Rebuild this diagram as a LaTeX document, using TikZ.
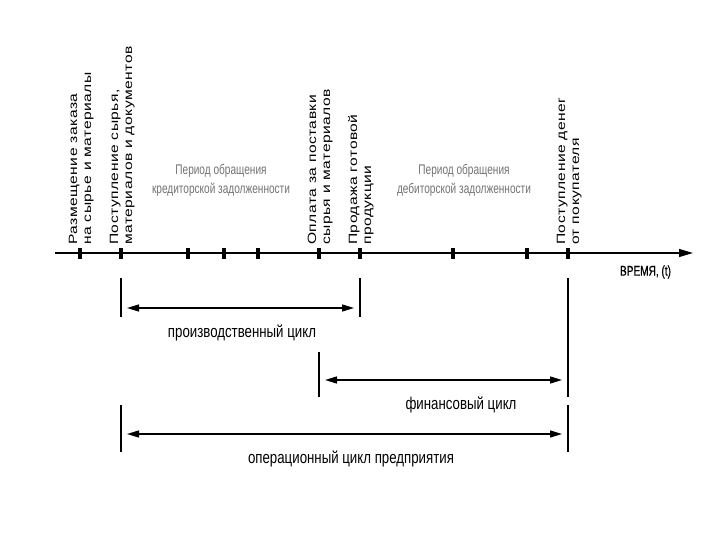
\documentclass[tikz,border=0pt]{standalone}
\usepackage{fontspec}
\setmainfont{Liberation Sans}
\newfontfamily\vfont[FakeStretch=1.3,LetterSpace=4]{Liberation Sans}
\newfontfamily\nfont[FakeStretch=0.78]{Liberation Sans}
\newfontfamily\gfont[FakeStretch=0.72]{Liberation Sans}
\newfontfamily\tfont[FakeStretch=0.72,FakeBold=0.6]{Liberation Sans}
\usetikzlibrary{arrows.meta}
\definecolor{labgray}{rgb}{0.45,0.45,0.45}
\begin{document}
\begin{tikzpicture}[x=1pt,y=-1pt,
  vlab/.style={rotate=90,anchor=base west,inner sep=0pt,font=\vfont\fontsize{12}{14}\selectfont},
  glab/.style={text=labgray,font=\gfont\fontsize{14}{16}\selectfont,inner sep=0pt},
  clab/.style={font=\nfont\fontsize{17}{20}\selectfont,inner sep=0pt},
  tlab/.style={font=\tfont\fontsize{14}{16}\selectfont,inner sep=0pt},
  tickmark/.style={line width=3.5pt},
  bar/.style={line width=1.6pt},
  span/.style={line width=1.4pt,{Triangle[length=12pt,width=7pt]}-{Triangle[length=12pt,width=7pt]},shorten <=6pt,shorten >=6pt},
  axisline/.style={line width=1.2pt,-{Triangle[length=14pt,width=8pt]}}
]
\useasboundingbox (0,0) rectangle (720,540);
\fill[white] (0,0) rectangle (720,540);

% axis
\coordinate (ax0) at (55,253);
\coordinate (ax1) at (693,253);
\draw[axisline] (ax0) -- (ax1);
\node[tlab,anchor=center] (time) at (645.5,272) {ВРЕМЯ, (t)};

% ticks
\foreach \n/\x in {t1/80,t2/121,t3/188,t4/224,t5/258,t6/319,t7/360,t8/453,t9/527,t10/568}{
  \coordinate (\n) at (\x,253);
  \draw[tickmark] ([yshift=-5.5pt]\n) -- ([yshift=5.5pt]\n);
}

% vertical labels
\node[vlab] (l1a) at (77,245) {Размещение заказа};
\node[vlab] (l1b) at (91,245) {на сырье и материалы};
\node[vlab] (l2a) at (118,245) {Поступление сырья,};
\node[vlab] (l2b) at (132,245) {материалов и документов};
\node[vlab] (l3a) at (316,245) {Оплата за поставки};
\node[vlab] (l3b) at (330,245) {сырья и материалов};
\node[vlab] (l4a) at (357,245) {Продажа готовой};
\node[vlab] (l4b) at (371,245) {продукции};
\node[vlab] (l5a) at (565,245) {Поступление денег};
\node[vlab] (l5b) at (579,245) {от покупателя};

% gray period labels
\node[glab] (g1a) at (221,171) {Период обращения};
\node[glab] (g1b) at (221,190) {кредиторской задолженности};
\node[glab] (g2a) at (464,171) {Период обращения};
\node[glab] (g2b) at (464,190) {дебиторской задолженности};

% production cycle
\coordinate (p1t) at (121,278); \coordinate (p1b) at (121,317);
\coordinate (p2t) at (360,278); \coordinate (p2b) at (360,317);
\coordinate (pa) at (121,308); \coordinate (pb) at (360,308);
\draw[bar] (p1t) -- (p1b);
\draw[bar] (p2t) -- (p2b);
\draw[span] (pa) -- (pb);
\node[clab] (plab) at (242,333) {производственный цикл};

% financial cycle
\coordinate (f1t) at (319,352); \coordinate (f1b) at (319,397);
\coordinate (f2t) at (568,278); \coordinate (f2b) at (568,397);
\coordinate (fa) at (319,380); \coordinate (fb) at (568,380);
\draw[bar] (f1t) -- (f1b);
\draw[bar] (f2t) -- (f2b);
\draw[span] (fa) -- (fb);
\node[clab] (flab) at (461,405) {финансовый цикл};

% operating cycle
\coordinate (o1t) at (121,405); \coordinate (o1b) at (121,452);
\coordinate (o2t) at (568,405); \coordinate (o2b) at (568,452);
\coordinate (oa) at (121,434); \coordinate (ob) at (568,434);
\draw[bar] (o1t) -- (o1b);
\draw[bar] (o2t) -- (o2b);
\draw[span] (oa) -- (ob);
\node[clab] (olab) at (351,459) {операционный цикл предприятия};
\end{tikzpicture}
\end{document}
